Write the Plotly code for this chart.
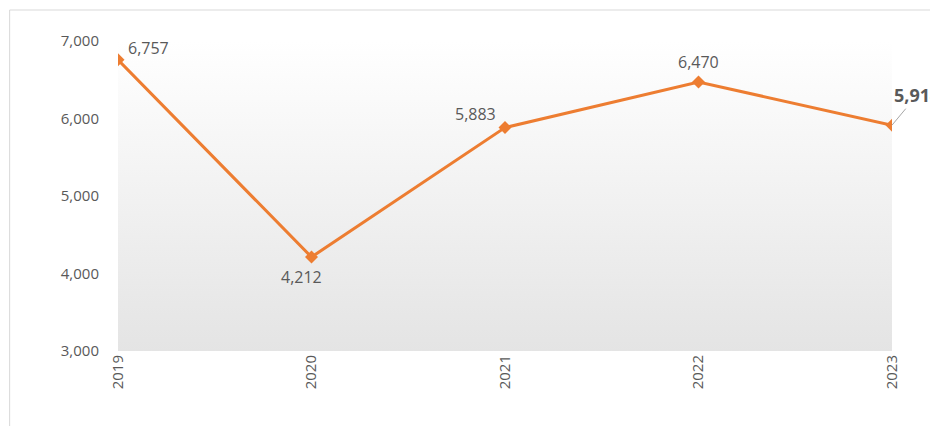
import plotly.graph_objects as go

years = ['2019', '2020', '2021', '2022', '2023']
values = [6757, 4212, 5883, 6470, 5914]
y_ticks = [3000, 4000, 5000, 6000, 7000]

orange = '#ED7D31'
grey_text = '#595959'
xs = list(range(len(years)))

fig = go.Figure()

# shaded background (white at top to light grey at bottom)
fig.add_trace(go.Scatter(
    x=[xs[0], xs[-1], xs[-1], xs[0], xs[0]],
    y=[y_ticks[-1], y_ticks[-1], y_ticks[0], y_ticks[0], y_ticks[-1]],
    fill='toself', mode='none', hoverinfo='skip', showlegend=False,
    fillgradient=dict(type='vertical', colorscale=[[0, '#E4E4E4'], [1, '#FFFFFF']]),
))

fig.add_trace(go.Scatter(
    x=xs, y=values, mode='lines+markers',
    line=dict(color=orange, width=3),
    marker=dict(symbol='diamond', size=10, color=orange),
    showlegend=False,
))

# label placement per point
offsets = [(30, -12), (-10, 20), (-30, -14), (0, -20), (25, -30)]
for i, v in enumerate(values):
    last = i == len(values) - 1
    if last:
        fig.add_annotation(x=xs[i], y=v, text=f'<b>{v:,}</b>', showarrow=True,
                           arrowhead=0, arrowcolor='#A6A6A6', arrowwidth=1,
                           ax=offsets[i][0], ay=offsets[i][1],
                           font=dict(size=18, color=grey_text))
    else:
        fig.add_annotation(x=xs[i], y=v, text=f'{v:,}', showarrow=False,
                           xshift=offsets[i][0], yshift=-offsets[i][1],
                           font=dict(size=16, color=grey_text))

fig.update_layout(
    width=938, height=426,
    margin=dict(l=110, r=54, t=33, b=83),
    paper_bgcolor='white', plot_bgcolor='white',
    font=dict(family='Open Sans, Liberation Sans', size=15, color=grey_text),
    xaxis=dict(range=[xs[0], xs[-1]], tickvals=xs, ticktext=years, tickangle=-90,
               showgrid=True, gridcolor='#D9D9D9', showline=False, zeroline=False,
               ticks='', tickfont=dict(size=15)),
    yaxis=dict(range=[3000, 7000], tickvals=y_ticks, tickformat=',',
               showgrid=False, zeroline=False, showline=False, ticks='',
               ticklabelstandoff=18, tickfont=dict(size=15)),
    shapes=[dict(type='rect', xref='paper', yref='paper', x0=-0.14, x1=1.066,
                 y0=-0.26, y1=1.1, line=dict(color='#D9D9D9', width=1))],
)

fig.write_html('out.html')
